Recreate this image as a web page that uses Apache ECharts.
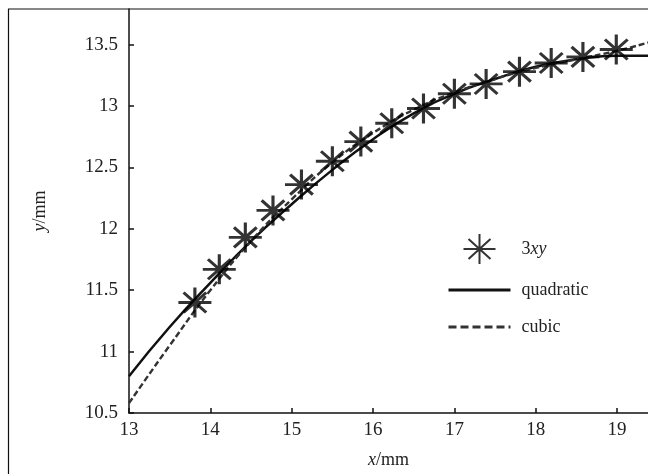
<!DOCTYPE html>
<html>
<head>
<meta charset="utf-8">
<script src="https://cdn.jsdelivr.net/npm/echarts@6/dist/echarts.min.js"></script>
<style>
  html, body { margin: 0; padding: 0; background: #fff; }
  #chart { width: 648px; height: 474px; }
</style>
</head>
<body>
<div id="chart"></div>
<script>
// measured points (3xy)
const starX = [13.81, 14.11, 14.43, 14.77, 15.12, 15.50, 15.85, 16.23, 16.62, 17.00, 17.39, 17.80, 18.19, 18.58, 18.99]
const starY = [11.40, 11.67, 11.93, 12.15, 12.36, 12.55, 12.71, 12.86, 12.98, 13.10, 13.18, 13.28, 13.35, 13.40, 13.46]

// fitted curves
const curveX = [13.0, 13.5, 14.0, 14.5, 15.0, 15.5, 16.0, 16.5, 17.0, 17.5, 18.0, 18.5, 19.0, 19.4]
const quadY = [10.80, 11.20, 11.56, 11.90, 12.20, 12.48, 12.73, 12.94, 13.10, 13.22, 13.32, 13.38, 13.41, 13.41]
const cubicY = [10.58, 11.05, 11.50, 11.90, 12.24, 12.54, 12.78, 12.97, 13.11, 13.22, 13.31, 13.38, 13.45, 13.52]

const seriesNames = ['3xy', 'quadratic', 'cubic']

const zip = (xs, ys) => xs.map((x, i) => [x, ys[i]])

const starPath = 'path://M-16,0L16,0M0,-15L0,15M-11,-10L11,10M-11,10L11,-10'
const font = 'Liberation Serif'

const chart = echarts.init(document.getElementById('chart'))

chart.setOption({
  animation: false,
  backgroundColor: '#fff',
  grid: { left: 129, right: 0, top: 9, bottom: 58 },
  xAxis: {
    type: 'value',
    min: 13,
    max: 19.38,
    interval: 1,
    name: '{i|x}/mm',
    nameLocation: 'middle',
    nameGap: 38,
    nameTextStyle: {
      fontFamily: font, fontSize: 18, color: '#222',
      rich: { i: { fontFamily: font, fontSize: 18, fontStyle: 'italic', color: '#222' } },
    },
    axisLine: { lineStyle: { color: '#111', width: 1.5 } },
    axisTick: { inside: true, length: 5, lineStyle: { color: '#111', width: 1.5 } },
    axisLabel: { fontFamily: font, fontSize: 19, color: '#222', margin: 8, showMaxLabel: false },
    splitLine: { show: false },
  },
  yAxis: {
    type: 'value',
    min: 10.5,
    max: 13.79,
    interval: 0.5,
    name: '{i|y}/mm',
    nameLocation: 'middle',
    nameGap: 80,
    nameTextStyle: {
      fontFamily: font, fontSize: 18, color: '#222',
      rich: { i: { fontFamily: font, fontSize: 18, fontStyle: 'italic', color: '#222' } },
    },
    axisLine: { show: true, lineStyle: { color: '#111', width: 1.5 } },
    axisTick: { show: true, inside: true, length: 5, lineStyle: { color: '#111', width: 1.5 } },
    axisLabel: { fontFamily: font, fontSize: 19, color: '#222', margin: 11, showMaxLabel: false },
    splitLine: { show: false },
  },
  legend: {
    orient: 'vertical',
    left: 442,
    top: 228,
    itemWidth: 62,
    itemHeight: 30,
    itemGap: 13,
    data: [
      { name: seriesNames[0] },
      { name: seriesNames[1], itemStyle: { color: 'transparent', borderWidth: 0 }, lineStyle: { width: 3 } },
      { name: seriesNames[2], itemStyle: { color: 'transparent', borderWidth: 0 }, lineStyle: { width: 3, type: [8, 4] } },
    ],
    textStyle: {
      fontFamily: font, fontSize: 18, color: '#222', padding: [0, 0, 0, 6],
      rich: {
        n: { fontFamily: font, fontSize: 18, color: '#222' },
        i: { fontFamily: font, fontSize: 18, fontStyle: 'italic', color: '#222' },
      },
    },
    formatter: (name) => (name === '3xy' ? '{n|3}{i|xy}' : name),
  },
  graphic: [
    { type: 'line', shape: { x1: 8.5, y1: 9, x2: 8.5, y2: 474 }, style: { stroke: '#111', lineWidth: 1.2 } },
    { type: 'line', shape: { x1: 8, y1: 9, x2: 648, y2: 9 }, style: { stroke: '#111', lineWidth: 1.2 } },
  ],
  series: [
    {
      name: seriesNames[0],
      type: 'scatter',
      data: zip(starX, starY),
      symbol: starPath,
      symbolSize: [33, 30],
      itemStyle: { color: 'transparent', borderColor: '#000', borderWidth: 3 },
      z: 3,
    },
    {
      name: seriesNames[1],
      type: 'line',
      data: zip(curveX, quadY),
      smooth: true,
      showSymbol: false,
      symbol: 'none',
      lineStyle: { color: '#111', width: 2.5 },
      itemStyle: { color: '#111' },
      z: 2,
    },
    {
      name: seriesNames[2],
      type: 'line',
      data: zip(curveX, cubicY),
      smooth: true,
      showSymbol: false,
      symbol: 'none',
      lineStyle: { color: '#333', width: 2.4, type: [6, 3] },
      itemStyle: { color: '#333' },
      z: 2,
    },
  ],
})
</script>
</body>
</html>
